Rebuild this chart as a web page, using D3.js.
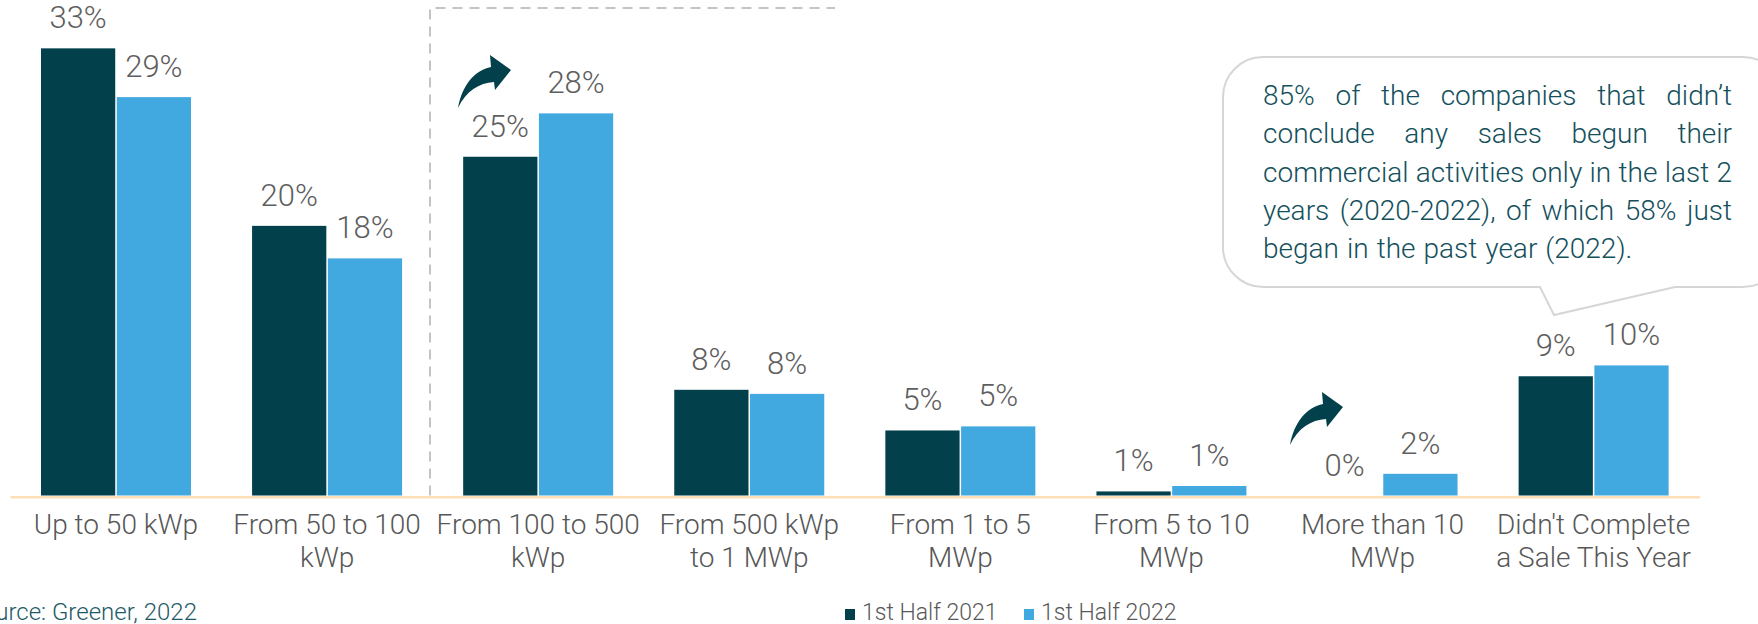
<!DOCTYPE html>
<html>
<head>
<meta charset="utf-8">
<script src="https://cdnjs.cloudflare.com/ajax/libs/d3/7.8.5/d3.min.js"></script>
<style>
  body { margin: 0; background: #fff; }
  svg { display: block; font-family: "Roboto Light", Roboto, "Noto Sans", sans-serif; }
</style>
</head>
<body>
<script>
var width = 1758, height = 624

// data
var categories = ["Up to 50 kWp", "From 50 to 100 kWp", "From 100 to 500 kWp", "From 500 kWp to 1 MWp",
                  "From 1 to 5 MWp", "From 5 to 10 MWp", "More than 10 MWp", "Didn't Complete a Sale This Year"]
var categoryLines = [["Up to 50 kWp"], ["From 50 to 100", "kWp"], ["From 100 to 500", "kWp"], ["From 500 kWp", "to 1 MWp"],
                     ["From 1 to 5", "MWp"], ["From 5 to 10", "MWp"], ["More than 10", "MWp"], ["Didn't Complete", "a Sale This Year"]]
var series = ["1st Half 2021", "1st Half 2022"]
var half2021 = [33.0, 19.9, 25.0, 7.8, 4.8, 0.3, 0, 8.8]
var half2022 = [29.4, 17.5, 28.2, 7.5, 5.1, 0.7, 1.6, 9.6]
var labels2021 = ["33%", "20%", "25%", "8%", "5%", "1%", "0%", "9%"]
var labels2022 = ["29%", "18%", "28%", "8%", "5%", "1%", "2%", "10%"]
var growthCats = ["From 100 to 500 kWp", "More than 10 MWp"]
var noteLines = ["85% of the companies that didn\u2019t", "conclude any sales begun their",
                 "commercial activities only in the last 2", "years (2020-2022), of which 58% just",
                 "began in the past year  (2022)."]
var source = "Source: Greener, 2022"

var colors = { "1st Half 2021": "#02404c", "1st Half 2022": "#41a8e0" }

var rows = categories.map(function(c, i) {
  return { cat: c, lines: categoryLines[i], vals: [
    { s: series[0], v: half2021[i], label: labels2021[i] },
    { s: series[1], v: half2022[i], label: labels2022[i] }] }
})

var svg = d3.select("body").append("svg")
  .attr("width", width)
  .attr("height", height)

var x0 = d3.scaleBand().domain(categories).range([10, 1699.6]).paddingInner(0.2894).paddingOuter(0.1468)
var x1 = d3.scaleBand().domain(series).range([0, x0.bandwidth()]).paddingInner(0.02)
var y = d3.scaleLinear().domain([0, 34]).range([495.5, 495.5 - 34 * 13.55])

// dashed frame round the growth group
var fx = 430
svg.append("path")
  .attr("d", "M" + fx + "," + y(0) + "V8H835")
  .attr("fill", "none")
  .attr("stroke", "#c4c4c4")
  .attr("stroke-width", 2)
  .attr("stroke-dasharray", "10,7")

var groups = svg.selectAll("g.grp")
  .data(rows)
  .enter().append("g")
  .attr("class", "grp")
  .attr("transform", function(d) { return "translate(" + x0(d.cat) + ",0)" })

groups.selectAll("rect")
  .data(function(d) { return d.vals })
  .enter().append("rect")
  .attr("x", function(d) { return x1(d.s) })
  .attr("width", x1.bandwidth())
  .attr("y", function(d) { return y(d.v) })
  .attr("height", function(d) { return y(0) - y(d.v) })
  .attr("fill", function(d) { return colors[d.s] })

groups.selectAll("text.val")
  .data(function(d) { return d.vals })
  .enter().append("text")
  .attr("class", "val")
  .attr("x", function(d) { return x1(d.s) + x1.bandwidth() / 2 })
  .attr("y", function(d) { return y(d.v) - 20 })
  .attr("text-anchor", "middle")
  .attr("font-size", 31)
  .attr("font-weight", 300)
  .attr("fill", "#5e5e5e")
  .text(function(d) { return d.label })

// axis line + category labels
var xAxis = d3.axisBottom(x0).tickSize(0).tickSizeOuter(0).tickFormat("")
var ax = svg.append("g").attr("transform", "translate(0," + (y(0) + 1.3) + ")").call(xAxis)
ax.select(".domain").attr("stroke", "#fde0b8").attr("stroke-width", 2.6)

var catText = svg.append("g").selectAll("text")
  .data(rows)
  .enter().append("text")
  .attr("text-anchor", "middle")
  .attr("font-size", 28)
  .attr("font-weight", 300)
  .attr("fill", "#575757")
  .attr("transform", function(d) { return "translate(" + (x0(d.cat) + x0.bandwidth() / 2) + ",534)" })
catText.selectAll("tspan")
  .data(function(d) { return d.lines })
  .enter().append("tspan")
  .attr("x", 0)
  .attr("y", function(d, i) { return i * 32.5 })
  .text(function(d) { return d })

// curved arrows over the growing groups
var arrowPath = "M1,53 C5,30 18,15 34,12 L33,0 L54,15 L38,35 L37,27 C22,28 9,36 1,53 Z"
var arrowPos = { "From 100 to 500 kWp": [457, 55], "More than 10 MWp": [1289, 392] }
svg.selectAll("path.arrow")
  .data(growthCats)
  .enter().append("path")
  .attr("class", "arrow")
  .attr("d", arrowPath)
  .attr("fill", "#02404c")
  .attr("transform", function(d) { return "translate(" + arrowPos[d][0] + "," + arrowPos[d][1] + ")" })

// callout bubble
var bx = 1223, by = 57, bw = 560, bh = 230, r = 40
var bubble = "M" + (bx + r) + "," + by + "H" + (bx + bw - r) +
  "A" + r + "," + r + " 0 0 1 " + (bx + bw) + "," + (by + r) +
  "V" + (by + bh - r) + "A" + r + "," + r + " 0 0 1 " + (bx + bw - r) + "," + (by + bh) +
  "H1675L1554,315L1540," + (by + bh) +
  "H" + (bx + r) + "A" + r + "," + r + " 0 0 1 " + bx + "," + (by + bh - r) +
  "V" + (by + r) + "A" + r + "," + r + " 0 0 1 " + (bx + r) + "," + by + "Z"
svg.append("path")
  .attr("d", bubble)
  .attr("fill", "#fff")
  .attr("stroke", "#d6d6d6")
  .attr("stroke-width", 2)

// justified note text
var noteG = svg.append("g")
  .attr("font-size", 28)
  .attr("font-weight", 300)
  .attr("fill", "#14505c")
var tl = 1263, tr = 1732
noteLines.forEach(function(line, li) {
  var words = line.split(/\s+/)
  var yy = 105 + li * 38.3
  var nodes = words.map(function(w) {
    return noteG.append("text").attr("y", yy).text(w)
  })
  var widths = nodes.map(function(n) { return n.node().getComputedTextLength() })
  var total = d3.sum(widths)
  var last = li === noteLines.length - 1
  var gap = last ? 8 : (tr - tl - total) / (words.length - 1)
  var xx = tl
  nodes.forEach(function(n, i) {
    n.attr("x", xx)
    xx += widths[i] + gap
  })
})

// source
svg.append("text")
  .attr("x", 197)
  .attr("y", 620)
  .attr("text-anchor", "end")
  .attr("font-size", 24)
  .attr("font-weight", 300)
  .attr("fill", "#1d5966")
  .text(source)

// legend
var legend = svg.append("g").attr("transform", "translate(845,0)")
var lx = [0, 179]
series.forEach(function(s, i) {
  legend.append("rect")
    .attr("x", lx[i]).attr("y", 609)
    .attr("width", 10).attr("height", 11)
    .attr("fill", colors[s])
  legend.append("text")
    .attr("x", lx[i] + 17).attr("y", 620)
    .attr("font-size", 23)
    .attr("font-weight", 300)
    .attr("fill", "#595959")
    .text(s)
})
</script>
</body>
</html>
